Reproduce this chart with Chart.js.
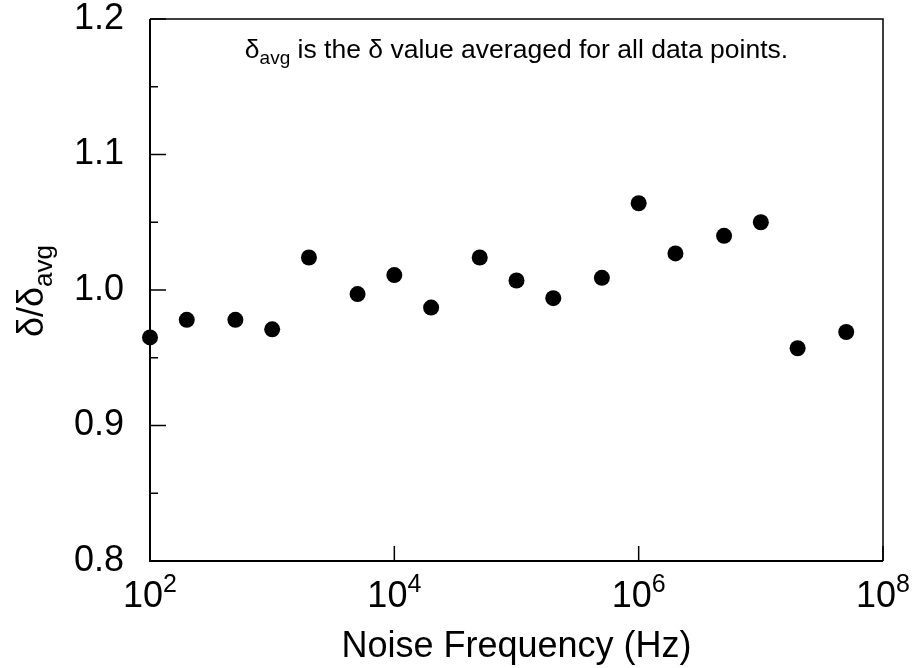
<!DOCTYPE html>
<html>
<head>
<meta charset="utf-8">
<script src="https://cdn.jsdelivr.net/npm/chart.js@4/dist/chart.umd.min.js"></script>
<style>
  html, body { margin: 0; padding: 0; background: #fff; }
  #wrap { width: 916px; height: 668px; }
</style>
</head>
<body>
<div id="wrap"><canvas id="scatterChart" width="916" height="668"></canvas></div>
<script>
// noise frequency (Hz) and normalised delta
const frequencies = [1e2, 2e2, 5e2, 1e3, 2e3, 5e3, 1e4, 2e4, 5e4, 1e5, 2e5, 5e5, 1e6, 2e6, 5e6, 1e7, 2e7, 5e7];
const deltaRatio = [0.965, 0.978, 0.978, 0.971, 1.024, 0.997, 1.011, 0.987, 1.024, 1.007, 0.994, 1.009, 1.064, 1.027, 1.040, 1.050, 0.957, 0.969];

const yTicks = [0.8, 0.9, 1.0, 1.1, 1.2];
const yMinorTicks = [0.85, 0.95, 1.05, 1.15];
const xTicks = [1e2, 1e4, 1e6, 1e8];

const FONT = "'Liberation Sans', Arial, Helvetica, sans-serif";

const decorations = {
    id: 'decorations',
    afterDraw(chart) {
        const ctx = chart.ctx;
        const a = chart.chartArea;
        const x = chart.scales.x;
        const y = chart.scales.y;
        ctx.save();
        ctx.strokeStyle = '#000';
        ctx.fillStyle = '#000';

        // frame
        ctx.lineWidth = 1.5;
        ctx.beginPath();
        ctx.moveTo(a.left, a.top);
        ctx.lineTo(a.right, a.top);
        ctx.lineTo(a.right, a.bottom);
        ctx.stroke();
        ctx.lineWidth = 2;
        ctx.beginPath();
        ctx.moveTo(a.left, a.top);
        ctx.lineTo(a.left, a.bottom);
        ctx.lineTo(a.right, a.bottom);
        ctx.stroke();

        // inward tick marks
        ctx.lineWidth = 1.5;
        ctx.beginPath();
        yTicks.forEach(v => {
            const py = y.getPixelForValue(v);
            ctx.moveTo(a.left, py);
            ctx.lineTo(a.left + 16, py);
        });
        yMinorTicks.forEach(v => {
            const py = y.getPixelForValue(v);
            ctx.moveTo(a.left, py);
            ctx.lineTo(a.left + 8, py);
        });
        xTicks.forEach(v => {
            const px = x.getPixelForValue(v);
            ctx.moveTo(px, a.bottom);
            ctx.lineTo(px, a.bottom - 15);
        });
        ctx.stroke();

        // x tick labels 10^n
        ctx.textBaseline = 'alphabetic';
        ctx.textAlign = 'left';
        xTicks.forEach(v => {
            const px = x.getPixelForValue(v);
            const exp = String(Math.round(Math.log10(v)));
            ctx.font = '36px ' + FONT;
            const wb = ctx.measureText('10').width;
            ctx.font = '25px ' + FONT;
            const we = ctx.measureText(exp).width;
            const start = px - (wb + we) / 2;
            ctx.font = '36px ' + FONT;
            ctx.fillText('10', start, a.bottom + 46);
            ctx.font = '25px ' + FONT;
            ctx.fillText(exp, start + wb, a.bottom + 31);
        });

        // x axis title
        ctx.font = '36px ' + FONT;
        ctx.textAlign = 'center';
        ctx.fillText('Noise Frequency (Hz)', (a.left + a.right) / 2, a.bottom + 96);

        // y axis title  δ/δavg
        ctx.save();
        ctx.translate(43, (a.top + a.bottom) / 2 + 1);
        ctx.rotate(-Math.PI / 2);
        ctx.textAlign = 'left';
        ctx.font = '36px ' + FONT;
        const wMain = ctx.measureText('δ/δ').width;
        ctx.font = '26px ' + FONT;
        const wSub = ctx.measureText('avg').width;
        const s = -(wMain + wSub) / 2;
        ctx.font = '36px ' + FONT;
        ctx.fillText('δ/δ', s, 0);
        ctx.font = '26px ' + FONT;
        ctx.fillText('avg', s + wMain, 9);
        ctx.restore();

        // annotation
        ctx.textAlign = 'left';
        const rest = ' is the δ value averaged for all data points.';
        ctx.font = '26.5px ' + FONT;
        const w1 = ctx.measureText('δ').width;
        const w3 = ctx.measureText(rest).width;
        ctx.font = '19px ' + FONT;
        const w2 = ctx.measureText('avg').width;
        const start = (a.left + a.right) / 2 - (w1 + w2 + w3) / 2;
        const base = a.top + 39;
        ctx.font = '26.5px ' + FONT;
        ctx.fillText('δ', start, base);
        ctx.fillText(rest, start + w1 + w2, base);
        ctx.font = '19px ' + FONT;
        ctx.fillText('avg', start + w1, base + 6);

        ctx.restore();
    }
};

const CHART = document.getElementById('scatterChart');
let scatterChart = new Chart(CHART, {
    type: 'scatter',
    data: {
        datasets: [{
            label: 'delta / delta avg',
            data: frequencies.map((f, i) => ({x: f, y: deltaRatio[i]})),
            backgroundColor: '#000',
            borderWidth: 0,
            pointRadius: 8,
            pointHoverRadius: 8,
            clip: false
        }]
    },
    options: {
        responsive: false,
        animation: false,
        events: [],
        layout: { padding: { top: 19, right: 33, left: 0, bottom: 0 } },
        plugins: {
            legend: { display: false },
            tooltip: { enabled: false }
        },
        scales: {
            x: {
                type: 'logarithmic',
                min: 1e2,
                max: 1e8,
                grid: { display: false, drawTicks: false, tickLength: 0 },
                border: { display: false },
                ticks: { display: false },
                afterFit: (scale) => {
                    scale.height = 107;
                    scale.paddingLeft = 0;
                    scale.paddingRight = 0;
                }
            },
            y: {
                min: 0.8,
                max: 1.2,
                grid: { display: false, drawTicks: false, tickLength: 0 },
                border: { display: false },
                afterBuildTicks: (scale) => {
                    scale.ticks = yTicks.map(v => ({value: v}));
                },
                ticks: {
                    padding: 26,
                    color: '#000',
                    font: { family: FONT, size: 36 },
                    callback: (v) => Number(v).toFixed(1)
                },
                afterFit: (scale) => {
                    scale.width = 150;
                    scale.paddingTop = 0;
                    scale.paddingBottom = 0;
                }
            }
        }
    },
    plugins: [decorations]
});
</script>
</body>
</html>
